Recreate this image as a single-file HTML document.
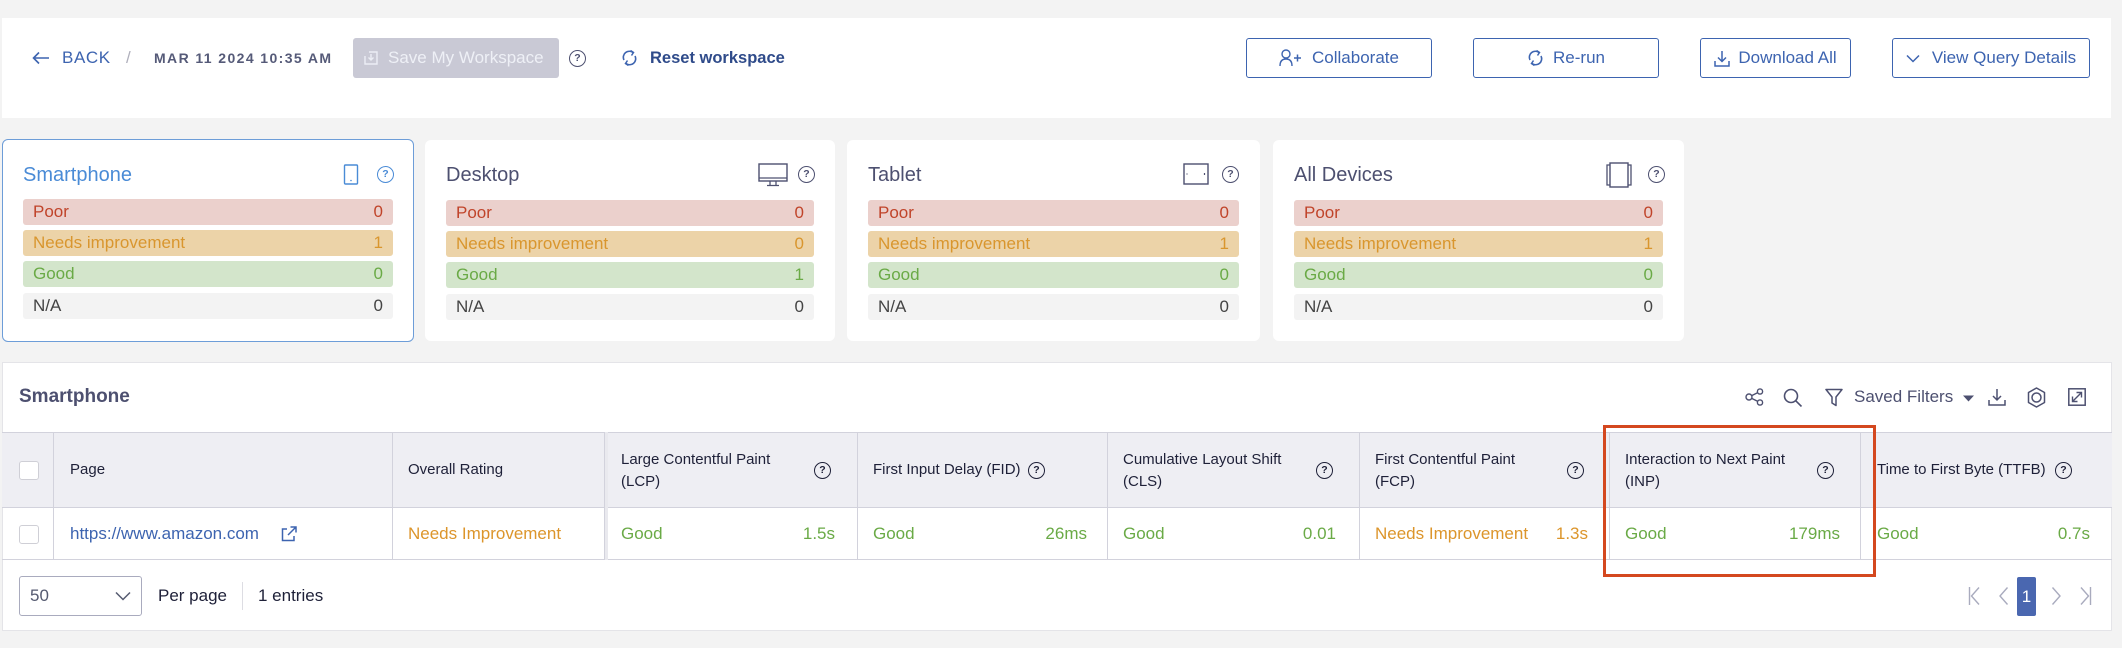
<!DOCTYPE html>
<html><head><meta charset="utf-8"><style>
*{box-sizing:border-box;margin:0;padding:0}
body{width:2122px;height:648px;background:#f3f3f3;font-family:"Liberation Sans",sans-serif;position:relative;overflow:hidden;color:#1e2038}
.a{position:absolute;white-space:nowrap}
.btn{position:absolute;top:38px;height:40px;border:1px solid #3d64b0;border-radius:3px;color:#3d64b0;font-size:17px;display:flex;align-items:center;justify-content:center;gap:9px;background:#fff}
.q{position:absolute;width:17px;height:17px;border:1.5px solid #4d5070;border-radius:50%;font-size:10.5px;font-weight:bold;line-height:14px;text-align:center;color:#4d5070}
.card{position:absolute;top:140px;height:201px;background:#fff;border-radius:6px}
.ttl{position:absolute;left:21px;top:22px;font-size:20px;line-height:26px;color:#4d5070}
.bar{position:absolute;left:21px;right:21px;height:26px;border-radius:3px;font-size:17px;line-height:26px;padding:0 10px;display:flex;justify-content:space-between}
.p{top:60px;background:#ebd0cc;color:#c0442a}
.n{top:91px;background:#ecd3a8;color:#d9962e}
.g{top:122px;background:#d3e5cb;color:#6aaa46}
.x{top:154px;background:#f3f3f3;color:#444}
.h{position:absolute;font-size:15px;line-height:22px;color:#1e2038}
.d{position:absolute;font-size:17px;line-height:22px;top:523px}
.gd{color:#6aaa46}
.ni{color:#dc952b}
.vl{position:absolute;top:432px;width:1px;height:128px;background:#d2d2dc}
.cb{position:absolute;left:19px;width:20px;height:19px;border:1px solid #cfcfd6;border-radius:3px;background:#fff}
</style></head><body>

<!-- header bar -->
<div class="a" style="left:2px;top:18px;width:2109px;height:100px;background:#fff"></div>
<svg class="a" style="left:32px;top:51px" width="18" height="14" viewBox="0 0 18 14"><path d="M17 7H2M7 1.5L1.5 7L7 12.5" fill="none" stroke="#3d64b0" stroke-width="1.6"/></svg>
<div class="a" style="left:62px;top:47px;font-size:17px;line-height:22px;color:#3d64b0;letter-spacing:0.6px">BACK</div>
<div class="a" style="left:126px;top:47px;font-size:17px;line-height:22px;color:#b0b0bc">/</div>
<div class="a" style="left:154px;top:49px;font-size:14px;line-height:18px;color:#555a78;font-weight:bold;letter-spacing:1.4px">MAR 11 2024 10:35 AM</div>
<div class="a" style="left:353px;top:38px;width:206px;height:40px;background:#c9c9d5;border-radius:3px"></div>
<svg class="a" style="left:364px;top:51px" width="14" height="14" viewBox="0 0 14 14"><path d="M5 1H13V13H1V5" fill="none" stroke="#eceef5" stroke-width="1.4"/><path d="M7 3V8.5M4.5 6.5L7 9L9.5 6.5" fill="none" stroke="#eceef5" stroke-width="1.4"/></svg>
<div class="a" style="left:388px;top:47px;font-size:17px;line-height:22px;color:#eef0f6">Save My Workspace</div>
<div class="q" style="left:569px;top:50px">?</div>
<svg class="a" style="left:621px;top:49px" width="17" height="18" viewBox="0 0 17 18"><path d="M3 11A6 6 0 0 1 12 3.5M14 7A6 6 0 0 1 5 14.5" fill="none" stroke="#3d64b0" stroke-width="1.6"/><path d="M9.5 1.5L12.5 3.5L10.5 6.5M7.5 16.5L4.5 14.5L6.5 11.5" fill="none" stroke="#3d64b0" stroke-width="1.5"/></svg>
<div class="a" style="left:650px;top:47px;font-size:16.5px;line-height:22px;color:#2f4b8a;font-weight:bold">Reset workspace</div>

<div class="btn" style="left:1246px;width:186px"><svg width="24" height="18" viewBox="0 0 24 18"><circle cx="7" cy="5" r="4" fill="none" stroke="#3d64b0" stroke-width="1.4"/><path d="M1 17C1 12 3.5 10 7 10S13 12 13 17" fill="none" stroke="#3d64b0" stroke-width="1.4"/><path d="M15 9H22M18.5 5.5V12.5" stroke="#3d64b0" stroke-width="1.5"/></svg><span>Collaborate</span></div>
<div class="btn" style="left:1473px;width:186px"><svg width="17" height="18" viewBox="0 0 17 18"><path d="M3 11A6 6 0 0 1 12 3.5M14 7A6 6 0 0 1 5 14.5" fill="none" stroke="#3d64b0" stroke-width="1.6"/><path d="M9.5 1.5L12.5 3.5L10.5 6.5M7.5 16.5L4.5 14.5L6.5 11.5" fill="none" stroke="#3d64b0" stroke-width="1.5"/></svg><span>Re-run</span></div>
<div class="btn" style="left:1700px;width:151px;gap:8px"><svg width="16" height="17" viewBox="0 0 16 17"><path d="M8 1V11M4 7.5L8 11.5L12 7.5M1 11V16H15V11" fill="none" stroke="#3d64b0" stroke-width="1.5"/></svg><span>Download All</span></div>
<div class="btn" style="left:1892px;width:198px;gap:12px"><svg width="14" height="9" viewBox="0 0 14 9"><path d="M1 1.5L7 7.5L13 1.5" fill="none" stroke="#3d64b0" stroke-width="1.5"/></svg><span>View Query Details</span></div>

<!-- cards -->
<div class="card" style="left:2px;top:139px;width:412px;height:203px;border:1px solid #6d9dd8">
  <div class="ttl" style="left:20px;top:22px;color:#4a8bd6">Smartphone</div>
  <svg class="a" style="left:340px;top:24px" width="16" height="21" viewBox="0 0 16 21"><rect x="1.5" y="1" width="13" height="19" rx="1" fill="none" stroke="#4a8bd6" stroke-width="1.4"/><circle cx="8" cy="16.5" r="0.8" fill="#4a8bd6"/></svg>
  <div class="q" style="left:374px;top:26px;border-color:#4a8bd6;color:#4a8bd6">?</div>
  <div class="bar p" style="left:20px;right:20px;top:59px"><span>Poor</span><span>0</span></div>
  <div class="bar n" style="left:20px;right:20px;top:90px"><span>Needs improvement</span><span>1</span></div>
  <div class="bar g" style="left:20px;right:20px;top:121px"><span>Good</span><span>0</span></div>
  <div class="bar x" style="left:20px;right:20px;top:153px"><span>N/A</span><span>0</span></div>
</div>
<div class="card" style="left:425px;width:410px">
  <div class="ttl">Desktop</div>
  <svg class="a" style="left:333px;top:23px" width="30" height="24" viewBox="0 0 30 24"><rect x="1" y="1" width="28" height="17" fill="none" stroke="#4d5070" stroke-width="1.4"/><path d="M1 15H29M12 18V22M18 18V22M9 22.5H21" fill="none" stroke="#4d5070" stroke-width="1.3"/></svg>
  <div class="q" style="left:373px;top:26px">?</div>
  <div class="bar p"><span>Poor</span><span>0</span></div>
  <div class="bar n"><span>Needs improvement</span><span>0</span></div>
  <div class="bar g"><span>Good</span><span>1</span></div>
  <div class="bar x"><span>N/A</span><span>0</span></div>
</div>
<div class="card" style="left:847px;width:413px">
  <div class="ttl">Tablet</div>
  <svg class="a" style="left:336px;top:23px" width="26" height="22" viewBox="0 0 26 22"><rect x="1" y="1" width="24" height="20" fill="none" stroke="#4d5070" stroke-width="1.4"/><path d="M3.5 11H4.5M21.5 10V12" stroke="#4d5070" stroke-width="1.2"/></svg>
  <div class="q" style="left:375px;top:26px">?</div>
  <div class="bar p"><span>Poor</span><span>0</span></div>
  <div class="bar n"><span>Needs improvement</span><span>1</span></div>
  <div class="bar g"><span>Good</span><span>0</span></div>
  <div class="bar x"><span>N/A</span><span>0</span></div>
</div>
<div class="card" style="left:1273px;width:411px">
  <div class="ttl">All Devices</div>
  <svg class="a" style="left:332px;top:22px" width="28" height="26" viewBox="0 0 28 26"><rect x="5" y="1" width="18" height="24" fill="none" stroke="#4d5070" stroke-width="1.4"/><path d="M5 3H2V23H5M23 3H26V23H23" fill="none" stroke="#4d5070" stroke-width="1.3"/></svg>
  <div class="q" style="left:375px;top:26px">?</div>
  <div class="bar p"><span>Poor</span><span>0</span></div>
  <div class="bar n"><span>Needs improvement</span><span>1</span></div>
  <div class="bar g"><span>Good</span><span>0</span></div>
  <div class="bar x"><span>N/A</span><span>0</span></div>
</div>

<!-- table panel -->
<div class="a" style="left:2px;top:362px;width:2110px;height:269px;background:#fff;border:1px solid #e4e4e8"></div>
<div class="a" style="left:19px;top:385px;font-size:19px;line-height:24px;font-weight:bold;color:#4d5070">Smartphone</div>

<!-- toolbar icons -->
<svg class="a" style="left:1745px;top:388px" width="19" height="18" viewBox="0 0 19 18"><circle cx="4" cy="9" r="3" fill="none" stroke="#4d5070" stroke-width="1.4"/><circle cx="15" cy="3.5" r="2.6" fill="none" stroke="#4d5070" stroke-width="1.4"/><circle cx="15" cy="14.5" r="2.6" fill="none" stroke="#4d5070" stroke-width="1.4"/><path d="M6.7 7.6L12.5 4.7M6.7 10.4L12.5 13.3" stroke="#4d5070" stroke-width="1.4"/></svg>
<svg class="a" style="left:1783px;top:388px" width="20" height="19" viewBox="0 0 20 19"><circle cx="8" cy="8" r="6.5" fill="none" stroke="#4d5070" stroke-width="1.6"/><path d="M12.8 12.8L18.5 18.5" stroke="#4d5070" stroke-width="1.6"/></svg>
<svg class="a" style="left:1825px;top:388px" width="18" height="19" viewBox="0 0 18 19"><path d="M1 1.5H17L11 9V17.5L7 15V9Z" fill="none" stroke="#4d5070" stroke-width="1.5" stroke-linejoin="round"/></svg>
<div class="a" style="left:1854px;top:386px;font-size:17px;line-height:22px;color:#4d5070">Saved Filters</div>
<svg class="a" style="left:1963px;top:395px" width="11" height="7" viewBox="0 0 11 7"><path d="M0 0.5H11L5.5 6.5Z" fill="#4d5070"/></svg>
<svg class="a" style="left:1988px;top:388px" width="18" height="18" viewBox="0 0 18 18"><path d="M9 1V12M5 8L9 12L13 8M1 12V17H17V12" fill="none" stroke="#4d5070" stroke-width="1.5"/></svg>
<svg class="a" style="left:2026px;top:387px" width="21" height="21" viewBox="0 0 21 21"><path d="M10.5 1L18.5 5.5V15.5L10.5 20L2.5 15.5V5.5Z" fill="none" stroke="#4d5070" stroke-width="1.5" stroke-linejoin="round"/><circle cx="10.5" cy="10.5" r="4.5" fill="none" stroke="#4d5070" stroke-width="1.5"/></svg>
<svg class="a" style="left:2068px;top:388px" width="18" height="18" viewBox="0 0 18 18"><rect x="0.8" y="0.8" width="16.4" height="16.4" fill="none" stroke="#4d5070" stroke-width="1.5"/><path d="M5 13L13 5M8.5 4.5H13.5V9.5M4.5 8.5V13.5H9.5" fill="none" stroke="#4d5070" stroke-width="1.4"/></svg>

<!-- table structure -->
<div class="a" style="left:2px;top:432px;width:2110px;height:76px;background:#eeeef3;border-top:1px solid #d2d2dc;border-bottom:1px solid #d2d2dc"></div>
<div class="a" style="left:2px;top:559px;width:2110px;height:1px;background:#d2d2dc"></div>
<div class="vl" style="left:53px"></div>
<div class="vl" style="left:392px"></div>
<div class="vl" style="left:604px"></div>
<div class="a" style="left:605px;top:432px;width:3px;height:128px;background:#e9e9ee"></div>
<div class="vl" style="left:857px"></div>
<div class="vl" style="left:1107px"></div>
<div class="vl" style="left:1359px"></div>
<div class="vl" style="left:1609px"></div>
<div class="vl" style="left:1860px"></div>

<div class="cb" style="top:461px"></div>
<div class="cb" style="top:525px"></div>

<div class="h" style="left:70px;top:459px">Page</div>
<div class="h" style="left:408px;top:459px">Overall Rating</div>
<div class="h" style="left:621px;top:449px">Large Contentful Paint<br>(LCP)</div>
<div class="q" style="left:814px;top:462px;border-color:#1e2038;color:#1e2038">?</div>
<div class="h" style="left:873px;top:459px">First Input Delay (FID)</div>
<div class="q" style="left:1028px;top:462px;border-color:#1e2038;color:#1e2038">?</div>
<div class="h" style="left:1123px;top:449px">Cumulative Layout Shift<br>(CLS)</div>
<div class="q" style="left:1316px;top:462px;border-color:#1e2038;color:#1e2038">?</div>
<div class="h" style="left:1375px;top:449px">First Contentful Paint<br>(FCP)</div>
<div class="q" style="left:1567px;top:462px;border-color:#1e2038;color:#1e2038">?</div>
<div class="h" style="left:1625px;top:449px">Interaction to Next Paint<br>(INP)</div>
<div class="q" style="left:1817px;top:462px;border-color:#1e2038;color:#1e2038">?</div>
<div class="h" style="left:1877px;top:459px">Time to First Byte (TTFB)</div>
<div class="q" style="left:2055px;top:462px;border-color:#1e2038;color:#1e2038">?</div>

<div class="d" style="left:70px;color:#3d64b0">https://www.amazon.com</div>
<svg class="a" style="left:281px;top:526px" width="16" height="16" viewBox="0 0 16 16"><path d="M6 3H1.5V14.5H13V10" fill="none" stroke="#3d64b0" stroke-width="1.5"/><path d="M7 9L15 1M9.5 1H15V6.5" fill="none" stroke="#3d64b0" stroke-width="1.5"/></svg>
<div class="d ni" style="left:408px">Needs Improvement</div>
<div class="d gd" style="left:621px">Good</div>
<div class="d gd" style="right:1287px">1.5s</div>
<div class="d gd" style="left:873px">Good</div>
<div class="d gd" style="right:1035px">26ms</div>
<div class="d gd" style="left:1123px">Good</div>
<div class="d gd" style="right:786px">0.01</div>
<div class="d ni" style="left:1375px">Needs Improvement</div>
<div class="d ni" style="right:534px">1.3s</div>
<div class="d gd" style="left:1625px">Good</div>
<div class="d gd" style="right:282px">179ms</div>
<div class="d gd" style="left:1877px">Good</div>
<div class="d gd" style="right:32px">0.7s</div>

<!-- red highlight box -->
<div class="a" style="left:1603px;top:425px;width:273px;height:152px;border:3px solid #d4481f"></div>

<!-- footer -->
<div class="a" style="left:19px;top:576px;width:123px;height:40px;border:1px solid #a9abbe;border-radius:3px;background:#fff"></div>
<div class="a" style="left:30px;top:585px;font-size:17px;line-height:22px;color:#555a70">50</div>
<svg class="a" style="left:115px;top:591px" width="16" height="10" viewBox="0 0 16 10"><path d="M1 1.5L8 8.5L15 1.5" fill="none" stroke="#555a70" stroke-width="1.5"/></svg>
<div class="a" style="left:158px;top:585px;font-size:17px;line-height:22px;color:#1e2038">Per page</div>
<div class="a" style="left:242px;top:582px;width:1px;height:28px;background:#dddde3"></div>
<div class="a" style="left:258px;top:585px;font-size:17px;line-height:22px;color:#1e2038">1 entries</div>

<svg class="a" style="left:1968px;top:586px" width="16" height="20" viewBox="0 0 16 20"><path d="M1.5 1V19M11 1.5L3.5 10L11 18.5" fill="none" stroke="#a9abbe" stroke-width="1.4"/></svg>
<svg class="a" style="left:1998px;top:586px" width="12" height="20" viewBox="0 0 12 20"><path d="M9.5 1.5L2 10L9.5 18.5" fill="none" stroke="#a9abbe" stroke-width="1.4"/></svg>
<div class="a" style="left:2017px;top:577px;width:19px;height:39px;background:#4a67b0;border-radius:2px;color:#fff;font-size:17px;line-height:39px;text-align:center">1</div>
<svg class="a" style="left:2050px;top:586px" width="12" height="20" viewBox="0 0 12 20"><path d="M2.5 1.5L10 10L2.5 18.5" fill="none" stroke="#a9abbe" stroke-width="1.4"/></svg>
<svg class="a" style="left:2076px;top:586px" width="16" height="20" viewBox="0 0 16 20"><path d="M14.5 1V19M5 1.5L12.5 10L5 18.5" fill="none" stroke="#a9abbe" stroke-width="1.4"/></svg>
</body></html>
